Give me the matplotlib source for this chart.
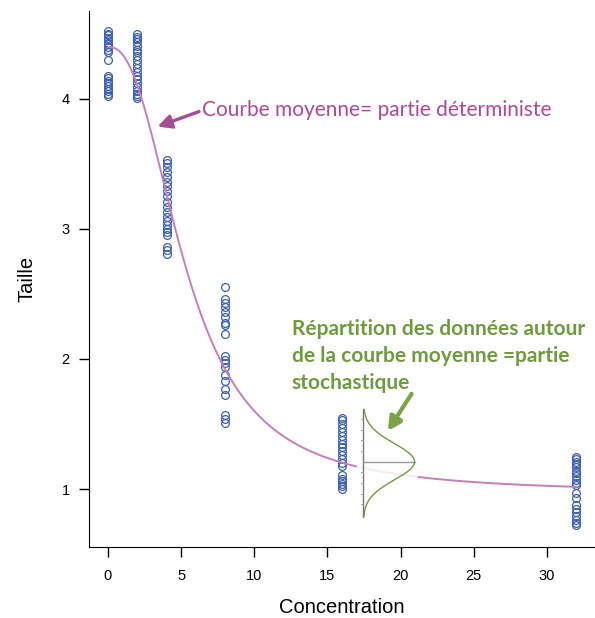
import numpy as np
import matplotlib
matplotlib.use('Agg')
from matplotlib import pyplot as plt
from matplotlib.patches import Rectangle
import matplotlib.patheffects as pe

conc = [0, 2, 4, 8, 16, 32]
taille_0 = [4.52, 4.50, 4.49, 4.47, 4.45, 4.43, 4.42, 4.40, 4.38, 4.36,
            4.30, 4.18, 4.16, 4.14, 4.12, 4.10, 4.08, 4.06, 4.04, 4.02]
taille_2 = [4.50, 4.48, 4.46, 4.44, 4.41, 4.38, 4.36, 4.33, 4.30, 4.27,
            4.24, 4.21, 4.18, 4.15, 4.12, 4.09, 4.06, 4.04, 4.02, 4.01]
taille_4 = [3.53, 3.51, 3.48, 3.44, 3.40, 3.36, 3.33, 3.29, 3.25, 3.21,
            3.17, 3.13, 3.09, 3.06, 3.03, 3.00, 2.98, 2.95, 2.86, 2.84, 2.81]
taille_8 = [2.55, 2.46, 2.43, 2.40, 2.36, 2.32, 2.28, 2.26, 2.19, 2.02,
            1.99, 1.97, 1.94, 1.88, 1.83, 1.77, 1.72, 1.57, 1.54, 1.51]
taille_16 = [1.55, 1.53, 1.50, 1.47, 1.44, 1.41, 1.38, 1.35, 1.32, 1.29,
             1.26, 1.23, 1.20, 1.18, 1.11, 1.08, 1.06, 1.04, 1.02, 1.00]
taille_32 = [1.25, 1.23, 1.21, 1.19, 1.17, 1.14, 1.12, 1.10, 1.07, 1.05,
             1.03, 0.97, 0.93, 0.88, 0.85, 0.82, 0.79, 0.76, 0.74, 0.72]
tailles = [taille_0, taille_2, taille_4, taille_8, taille_16, taille_32]

# parametres de la courbe moyenne (log-logistique)
haut, bas, ec50, pente = 4.4, 0.97, 5.37, 2.4

# loi normale dessinee autour de la courbe
gauss_x0, gauss_y0, gauss_sd, gauss_h = 17.45, 1.21, 0.14, 3.5

pink = '#C97DB9'
pink_txt = '#B0479B'
green = '#6E9B3E'
blue = '#3A5FB4'

plt.rcParams['font.family'] = ['Liberation Sans', 'DejaVu Sans']

fig = plt.figure(figsize=(5.95, 6.18), dpi=100)
ax = fig.add_axes([0.150, 0.1155, 0.850, 0.8675])

for c, t in zip(conc, tailles):
    ax.plot([c] * len(t), t, 'o', mfc='none', mec=blue, ms=5.6, mew=0.9)

xx = np.linspace(0, 32, 400)
yy = bas + (haut - bas) / (1 + (xx / ec50) ** pente)
ax.plot(xx, yy, color=pink, lw=1.4)

# image collee (fond blanc semi-transparent)
ax.add_patch(Rectangle((17.0, 0.78), 4.2, 0.84, facecolor='white',
                       edgecolor='none', alpha=0.85, zorder=3))
gy = np.linspace(0.79, 1.61, 200)
gx = gauss_x0 + gauss_h * np.exp(-(gy - gauss_y0) ** 2 / (2 * gauss_sd ** 2))
ax.plot([gauss_x0, gauss_x0], [0.785, 1.615], color='#777777', lw=1.0, zorder=4)
ax.plot([gauss_x0, gauss_x0 + gauss_h], [gauss_y0, gauss_y0], color='#999999', lw=1.0, zorder=4)
for k in range(1, 5):
    for s in (-1, 1):
        yk = gauss_y0 + s * k * 0.082
        ax.plot([gauss_x0 - 0.18, gauss_x0], [yk, yk], color='#999999', lw=0.6, zorder=4)
ax.plot(gx, gy, color=green, lw=1.0, zorder=5)

shadow = [pe.withSimplePatchShadow(offset=(1.5, -1.5), alpha=0.35)]
ax.annotate('', xy=(3.21, 3.78), xytext=(6.4, 3.91),
            arrowprops=dict(arrowstyle='-|>,head_length=0.8,head_width=0.4',
                            color='#A94C98', lw=2.4, path_effects=shadow), zorder=6)
ax.text(6.45, 3.915, 'Courbe moyenne= partie déterministe', color=pink_txt,
        fontsize=15, family=['Lato', 'DejaVu Sans'], va='center', ha='left')

ax.annotate('', xy=(19.02, 1.43), xytext=(20.85, 1.75),
            arrowprops=dict(arrowstyle='-|>,head_length=0.8,head_width=0.4',
                            color='#79A542', lw=3.0, path_effects=shadow), zorder=6)
ax.text(12.56, 2.31, 'Répartition des données autour\nde la courbe moyenne =partie\nstochastique',
        color=green, fontsize=15, fontweight='bold', family=['Lato', 'DejaVu Sans'],
        va='top', ha='left', linespacing=1.45)

ax.set_xlim(-1.28, 33.28)
ax.set_ylim(0.557, 4.68)
ax.spines['top'].set_visible(False)
ax.spines['right'].set_visible(False)
ax.set_xticks([0, 5, 10, 15, 20, 25, 30])
ax.set_yticks([1, 2, 3, 4])
ax.tick_params(length=7, width=1, labelsize=10.5)
ax.tick_params(axis='x', pad=9)
ax.tick_params(axis='y', pad=7)
ax.set_xlabel('Concentration', fontsize=14.5, labelpad=11)
ax.set_ylabel('Taille', fontsize=14.5, labelpad=18)

plt.savefig('out.png', dpi=100)
